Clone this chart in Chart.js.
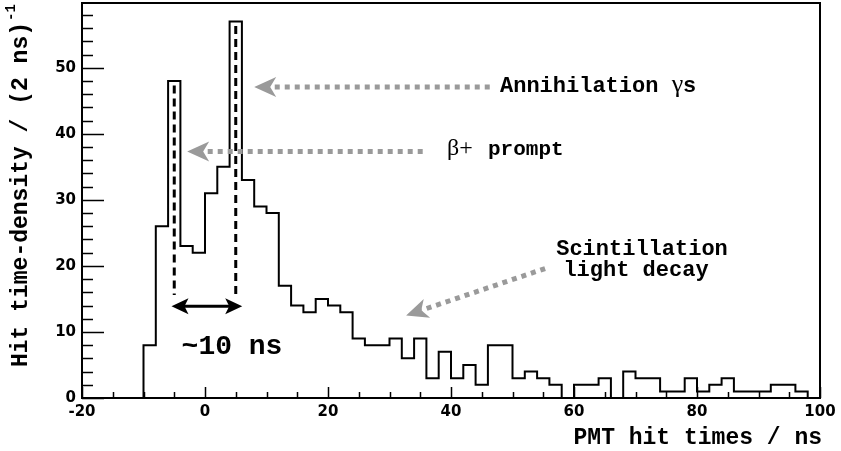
<!DOCTYPE html>
<html>
<head>
<meta charset="utf-8">
<script src="https://cdn.jsdelivr.net/npm/chart.js@4"></script>
<style>
  html, body { margin: 0; padding: 0; background: #fff; }
  canvas { display: block; }
</style>
</head>
<body>
<canvas id="hist" width="841" height="451"></canvas>
<script>
// ---- Data ----
// 2 ns bins from -20 ns to 100 ns, value = hits per bin
const binStart = -20;
const binWidth = 2;
const counts = [
  0, 0, 0, 0, 0,            // -20 .. -12
  8, 26, 48, 23, 22,        // -10 .. -2
  31, 35, 57, 33, 29,       // 0 .. 8
  28, 17, 14, 13, 15,       // 10 .. 18
  14, 13, 9, 8, 8,          // 20 .. 28
  9, 6, 9, 3, 7,            // 30 .. 38
  3, 5, 2, 8, 8,            // 40 .. 48
  3, 4, 3, 2, 0,            // 50 .. 58
  2, 2, 3, 0, 4,            // 60 .. 68
  3, 3, 1, 1, 3,            // 70 .. 78
  1, 2, 3, 1, 1,            // 80 .. 88
  1, 2, 2, 1, 0             // 90 .. 98
];
const xTicks = [-20, 0, 20, 40, 60, 80, 100];
const yTicks = [0, 10, 20, 30, 40, 50];
const xTitle = "PMT hit times / ns";
const yTitle = "Hit time-density / (2 ns)";

// ---- Build step points (left bin edges + closing edge) ----
const steps = counts.map((c, i) => ({ x: binStart + i * binWidth, y: c }));
steps.push({ x: binStart + counts.length * binWidth, y: counts[counts.length - 1] });

const MONO = '"Liberation Mono", "Courier New", monospace';
const SERIF = '"Liberation Serif", "Times New Roman", serif';
const GREY = "#9a9a9a";

// filled arrow head with a notch at the back
function arrowHead(ctx, tx, ty, dx, dy, len, half, notch, color) {
  const n = Math.hypot(dx, dy);
  const ux = dx / n, uy = dy / n;
  const px = -uy, py = ux;
  ctx.beginPath();
  ctx.moveTo(tx, ty);
  ctx.lineTo(tx - len * ux + half * px, ty - len * uy + half * py);
  ctx.lineTo(tx - (len - notch) * ux, ty - (len - notch) * uy);
  ctx.lineTo(tx - len * ux - half * px, ty - len * uy - half * py);
  ctx.closePath();
  ctx.fillStyle = color;
  ctx.fill();
}

function dottedArrow(ctx, x0, y0, x1, y1) {
  const dx = x1 - x0, dy = y1 - y0;
  const n = Math.hypot(dx, dy);
  const len = 22;
  ctx.save();
  ctx.strokeStyle = GREY;
  ctx.lineWidth = 5;
  ctx.setLineDash([5, 5]);
  ctx.beginPath();
  ctx.moveTo(x0, y0);
  ctx.lineTo(x1 - (len - 6) * dx / n, y1 - (len - 6) * dy / n);
  ctx.stroke();
  ctx.restore();
  arrowHead(ctx, x1, y1, dx, dy, len, 10, 6, GREY);
}

// ---- ROOT-like frame, ticks and annotations ----
const rootStyle = {
  id: "rootStyle",
  afterDatasetsDraw(chart) {
    const { ctx, chartArea: a, scales: { x, y } } = chart;
    ctx.save();

    // frame
    ctx.strokeStyle = "#000";
    ctx.lineWidth = 2;
    ctx.strokeRect(a.left, a.top, a.right - a.left, a.bottom - a.top);

    // inward ticks
    ctx.lineWidth = 1.5;
    ctx.beginPath();
    for (let v = 0; v <= y.max; v += 2) {
      const py = Math.round(y.getPixelForValue(v)) + 0.5;
      const l = v % 10 === 0 ? 22 : 11;
      ctx.moveTo(a.left, py);
      ctx.lineTo(a.left + l, py);
    }
    for (let v = x.min; v <= x.max; v += 5) {
      const px = Math.round(x.getPixelForValue(v)) + 0.5;
      const l = v % 20 === 0 ? 11 : 6;
      ctx.moveTo(px, a.bottom);
      ctx.lineTo(px, a.bottom - l);
    }
    ctx.stroke();

    // dashed guides at the two peaks
    ctx.lineWidth = 3;
    ctx.setLineDash([8, 5]);
    ctx.beginPath();
    ctx.moveTo(x.getPixelForValue(-5), y.getPixelForValue(47.3));
    ctx.lineTo(x.getPixelForValue(-5), y.getPixelForValue(15.6));
    ctx.moveTo(x.getPixelForValue(5), y.getPixelForValue(56.3));
    ctx.lineTo(x.getPixelForValue(5), y.getPixelForValue(15.6));
    ctx.stroke();
    ctx.setLineDash([]);

    // double arrow
    const ay = y.getPixelForValue(13.9);
    const ax0 = x.getPixelForValue(-5.45), ax1 = x.getPixelForValue(6.05);
    ctx.beginPath();
    ctx.moveTo(ax0 + 10, ay);
    ctx.lineTo(ax1 - 10, ay);
    ctx.stroke();
    arrowHead(ctx, ax0, ay, -1, 0, 17, 8, 4, "#000");
    arrowHead(ctx, ax1, ay, 1, 0, 17, 8, 4, "#000");

    ctx.fillStyle = "#000";
    ctx.textBaseline = "alphabetic";
    ctx.textAlign = "center";
    ctx.font = "bold 28px " + MONO;
    ctx.fillText("~10 ns", 232, 354);

    // grey pointers
    dottedArrow(ctx, x.getPixelForValue(46.3), y.getPixelForValue(47.1),
                     x.getPixelForValue(8.0), y.getPixelForValue(47.1));
    dottedArrow(ctx, x.getPixelForValue(35.4), y.getPixelForValue(37.3),
                     x.getPixelForValue(-2.9), y.getPixelForValue(37.3));
    dottedArrow(ctx, x.getPixelForValue(55.3), y.getPixelForValue(19.6),
                     x.getPixelForValue(32.7), y.getPixelForValue(12.5));

    // labels
    ctx.textAlign = "left";
    ctx.fillStyle = "#000";
    let tx = 500;
    ctx.font = "bold 22px " + MONO;
    ctx.fillText("Annihilation ", tx, 92);
    tx += ctx.measureText("Annihilation ").width;
    ctx.font = "26px " + SERIF;
    ctx.fillText("\u03b3", tx, 92);
    tx += ctx.measureText("\u03b3").width;
    ctx.font = "bold 22px " + MONO;
    ctx.fillText("s", tx, 92);

    ctx.font = "24px " + SERIF;
    ctx.fillText("\u03b2+", 447, 155);
    ctx.font = "bold 21px " + MONO;
    ctx.fillText("prompt", 488, 155);

    ctx.textAlign = "center";
    ctx.font = "bold 22px " + MONO;
    ctx.fillText("Scintillation", 642, 255);
    ctx.fillText("light decay", 636, 276);

    // axis titles
    ctx.textAlign = "right";
    ctx.font = "bold 23px " + MONO;
    ctx.fillText(xTitle, 822, 444);

    ctx.save();
    ctx.translate(27, 194.5);
    ctx.rotate(-Math.PI / 2);
    ctx.textAlign = "center";
    ctx.font = "bold 23px " + MONO;
    ctx.fillText(yTitle, 0, 0);
    const w = ctx.measureText(yTitle).width;
    ctx.textAlign = "left";
    ctx.font = "bold 14px " + MONO;
    ctx.fillText("-1", w / 2 + 1, -12);
    ctx.restore();

    ctx.restore();
  }
};

new Chart(document.getElementById("hist"), {
  type: "line",
  data: {
    datasets: [{
      label: "hits",
      data: steps,
      stepped: "before",
      borderColor: "#000",
      borderWidth: 2,
      pointRadius: 0,
      fill: false
    }]
  },
  options: {
    responsive: false,
    devicePixelRatio: 1,
    animation: false,
    layout: { padding: { top: 3, right: 21, left: 0, bottom: 0 } },
    plugins: { legend: { display: false }, tooltip: { enabled: false } },
    scales: {
      x: {
        type: "linear",
        min: -20,
        max: 100,
        afterFit: (s) => { s.height = 53; s.paddingLeft = 0; s.paddingRight = 0; },
        afterBuildTicks: (s) => { s.ticks = xTicks.map(v => ({ value: v })); },
        grid: { display: false, drawTicks: false },
        border: { display: false },
        ticks: {
          padding: 5,
          maxRotation: 0,
          autoSkip: false,
          color: "#000",
          font: { family: "DejaVu Sans", size: 15, weight: "bold" }
        }
      },
      y: {
        min: 0,
        max: 59.8,
        afterFit: (s) => { s.width = 82; s.paddingTop = 0; s.paddingBottom = 0; },
        afterBuildTicks: (s) => { s.ticks = yTicks.map(v => ({ value: v })); },
        grid: { display: false, drawTicks: false },
        border: { display: false },
        ticks: {
          padding: 6,
          color: "#000",
          font: { family: "DejaVu Sans", size: 15, weight: "bold" }
        }
      }
    }
  },
  plugins: [rootStyle]
});
</script>
</body>
</html>
